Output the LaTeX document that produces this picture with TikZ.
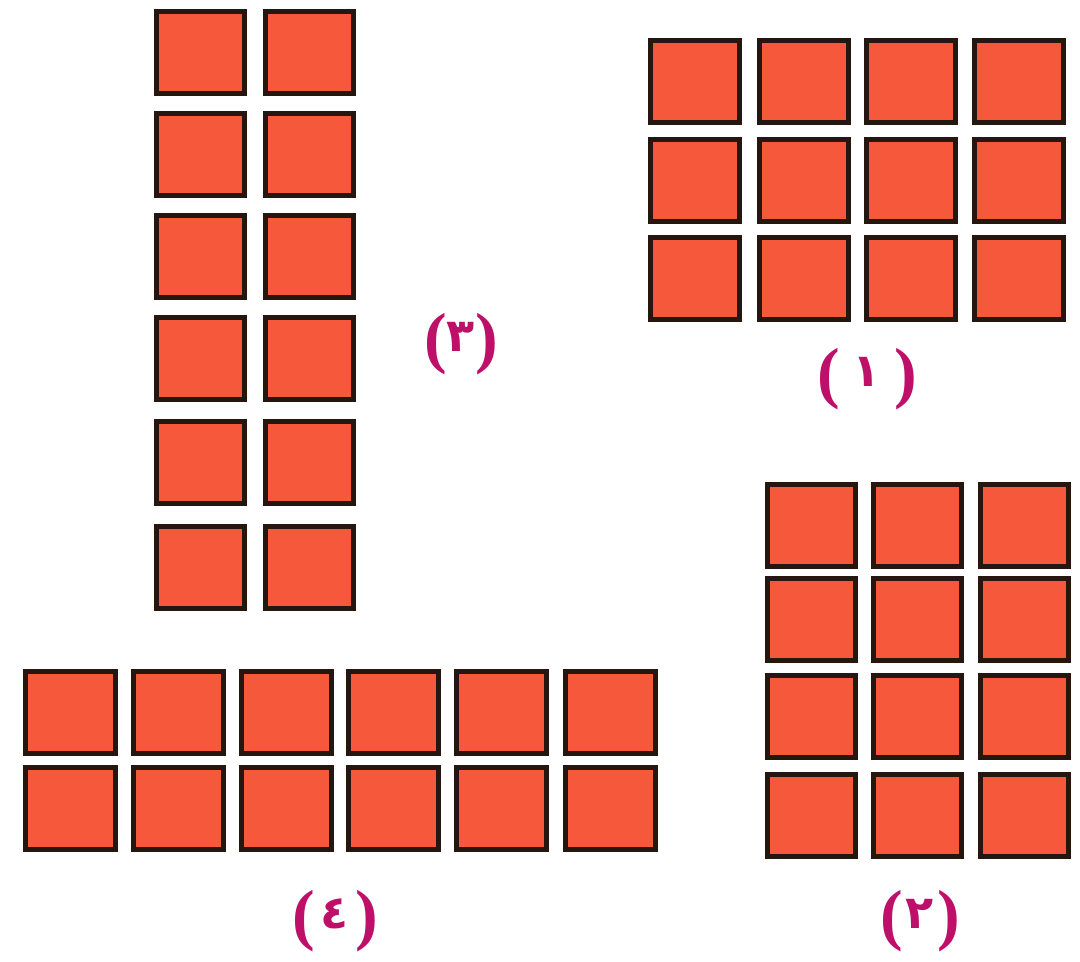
\documentclass[tikz,border=0pt]{standalone}
\usepackage{fontspec}
\newfontfamily\arabicfont[Script=Arabic]{DejaVu Sans}
\newfontfamily\parenfont{Liberation Serif}
\definecolor{tilefill}{RGB}{245,88,58}
\definecolor{tileedge}{RGB}{38,22,16}
\definecolor{lblcol}{RGB}{190,16,104}
\newcommand{\pnum}[2]{{\fontsize{68}{72}\selectfont\parenfont\bfseries(}\hspace{#2}\raisebox{9pt}{\fontsize{46}{50}\selectfont\arabicfont\bfseries #1}\hspace{#2}{\fontsize{68}{72}\selectfont\parenfont\bfseries)}}
\tikzset{
  tile/.style={draw=tileedge, fill=tilefill, line width=5pt, inner sep=0pt,
    minimum width=89pt, minimum height=82pt},
  lbl/.style={text=lblcol, inner sep=0pt}
}
\begin{document}
\begin{tikzpicture}[x=1pt,y=-1pt]
\useasboundingbox (0,0) rectangle (1080,962);
% Grid 1: 4 x 3
\foreach \c/\x in {1/695,2/804,3/911,4/1019}
  \foreach \r/\y in {1/81,2/180,3/278}
    \node[tile] (ga-\r-\c) at (\x,\y) {};
% Grid 2: 3 x 4
\foreach \c/\x in {1/811,2/917,3/1024}
  \foreach \r/\y in {1/525,2/619,3/716,4/815}
    \node[tile, minimum width=88pt] (gb-\r-\c) at (\x,\y) {};
% Grid 3: 2 x 6
\foreach \c/\x in {1/200,2/309}
  \foreach \r/\y in {1/52,2/154,3/256,4/358,5/462,6/567}
    \node[tile, minimum width=88pt] (gc-\r-\c) at (\x,\y) {};
% Grid 4: 6 x 2
\foreach \c/\x in {1/70,2/178,3/286,4/393,5/501,6/610}
  \foreach \r/\y in {1/712,2/808}
    \node[tile, minimum width=90pt] (gd-\r-\c) at (\x,\y) {};
% Labels
\node[lbl] (l1) at (867,379) {\pnum{١}{13pt}};
\node[lbl] (l2) at (920,921) {\pnum{٢}{3pt}};
\node[lbl] (l3) at (461,344) {\pnum{٣}{0pt}};
\node[lbl] (l4) at (335,921) {\pnum{٤}{6pt}};
\end{tikzpicture}
\end{document}
